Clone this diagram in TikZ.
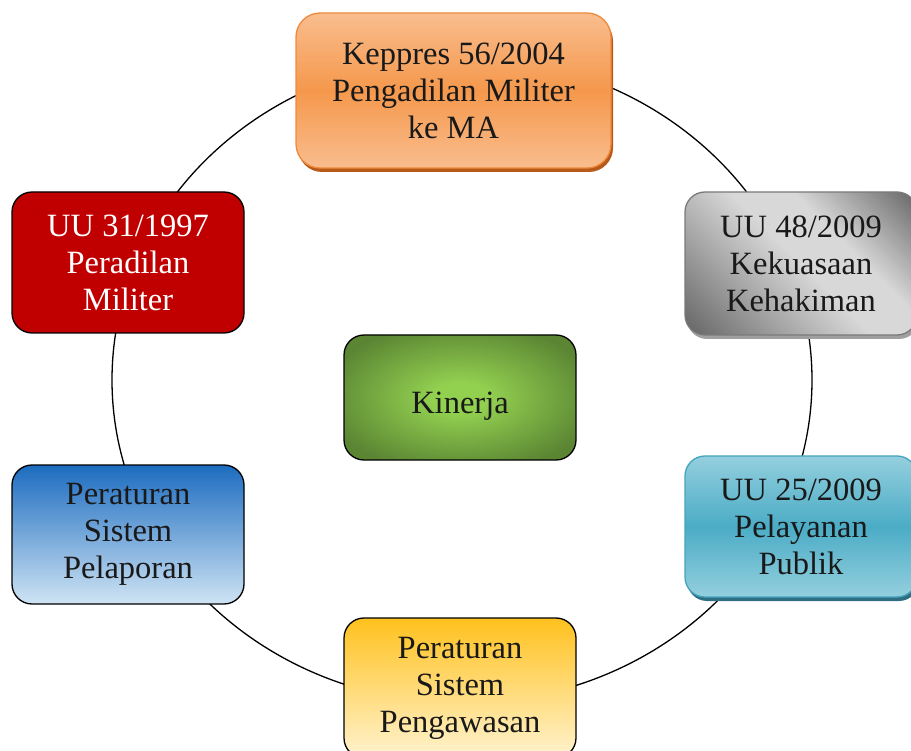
\documentclass[tikz,border=0pt]{standalone}
\usepackage{fontspec}
\setmainfont{Liberation Serif}
\usetikzlibrary{shadows}

\definecolor{orLight}{HTML}{F9BD8E}
\definecolor{orMid}{HTML}{F5984C}
\definecolor{orEdge}{HTML}{EE8A3C}
\definecolor{orShadow}{HTML}{B85A1A}
\definecolor{tealLight}{HTML}{94CFDE}
\definecolor{tealMid}{HTML}{4BACC6}
\definecolor{tealEdge}{HTML}{45A3BD}
\definecolor{tealShadow}{HTML}{2F6F84}
\definecolor{grayLight}{HTML}{D8D8D8}
\definecolor{grayMid}{HTML}{ABABAB}
\definecolor{grayDark}{HTML}{6C6C6C}
\definecolor{grayEdge}{HTML}{7A7A7A}
\definecolor{grayShadow}{HTML}{A0A0A0}
\definecolor{yelTop}{HTML}{FFC11E}
\definecolor{yelBot}{HTML}{FFF3CF}
\definecolor{bluTop}{HTML}{1C6CC0}
\definecolor{bluBot}{HTML}{CFE4F4}
\definecolor{redFill}{HTML}{C00000}
\definecolor{grnIn}{HTML}{92D050}
\definecolor{grnOut}{HTML}{5B8533}

\pgfdeclareverticalshading{orangeband}{100bp}{color(0bp)=(orLight); color(25bp)=(orLight); color(50bp)=(orMid); color(75bp)=(orLight); color(100bp)=(orLight)}
\pgfdeclareverticalshading{tealband}{100bp}{color(0bp)=(tealLight); color(25bp)=(tealLight); color(50bp)=(tealMid); color(75bp)=(tealLight); color(100bp)=(tealLight)}
\pgfdeclarehorizontalshading{graysheen}{100bp}{color(0bp)=(grayDark); color(17bp)=(grayDark); color(36bp)=(grayMid); color(50bp)=(grayLight); color(62bp)=(grayLight); color(84bp)=(grayDark); color(100bp)=(grayDark)}
\pgfdeclareradialshading{greenglow}{\pgfpoint{0bp}{0bp}}{color(0bp)=(grnIn); color(6bp)=(grnIn); color(30bp)=(grnOut); color(50bp)=(grnOut)}

\tikzset{
  card/.style={rectangle, rounded corners=20pt, minimum width=232pt, inner sep=0pt,
    align=center, font=\fontsize{32.5}{37}\selectfont, text=black!90, line width=1.3pt},
  legacard/.style={card, draw=black},
  ring/.style={draw=black, line width=1.3pt}
}

\begin{document}
\begin{tikzpicture}[x=1pt, y=-1pt]
\useasboundingbox (0,0) rectangle (911,751);
\clip (0,0) rectangle (911,751);

% the cycle behind the cards
\coordinate (hub) at (462,380);
\draw[ring] (hub) ellipse [x radius=350pt, y radius=323pt];

% top card
\node[card, minimum width=315pt, minimum height=155pt, rounded corners=24pt,
  draw=orEdge, shading=orangeband,
  drop shadow={shadow xshift=2pt, shadow yshift=-4pt, fill=orShadow, opacity=1}]
  (keppres) at (453.5,90.5) {Keppres 56/2004\\Pengadilan Militer\\ke MA};

% right upper card
\node[card, minimum height=143pt, draw=grayEdge, shading=graysheen, shading angle=45,
  drop shadow={shadow xshift=2pt, shadow yshift=-4pt, fill=grayShadow, opacity=1}]
  (uu48) at (801,263.5) {UU 48/2009\\Kekuasaan\\Kehakiman};

% right lower card
\node[card, minimum height=141pt, draw=tealEdge, shading=tealband,
  drop shadow={shadow xshift=2pt, shadow yshift=-4pt, fill=tealShadow, opacity=1}]
  (uu25) at (801,526.5) {UU 25/2009\\Pelayanan\\Publik};

% bottom card
\node[legacard, minimum height=140pt, top color=yelTop, bottom color=yelBot]
  (awas) at (460,688) {Peraturan\\Sistem\\Pengawasan};

% left lower card
\node[legacard, minimum height=139pt, top color=bluTop, bottom color=bluBot]
  (lapor) at (128,534.5) {Peraturan\\Sistem\\Pelaporan};

% left upper card
\node[legacard, minimum height=141pt, fill=redFill, text=white]
  (uu31) at (128,262.5) {UU 31/1997\\Peradilan\\Militer};

% centre card
\node[legacard, minimum height=125pt, shading=greenglow]
  (kinerja) at (460,397.5) {\raisebox{-16pt}[0pt][0pt]{Kinerja}};

\end{tikzpicture}
\end{document}
